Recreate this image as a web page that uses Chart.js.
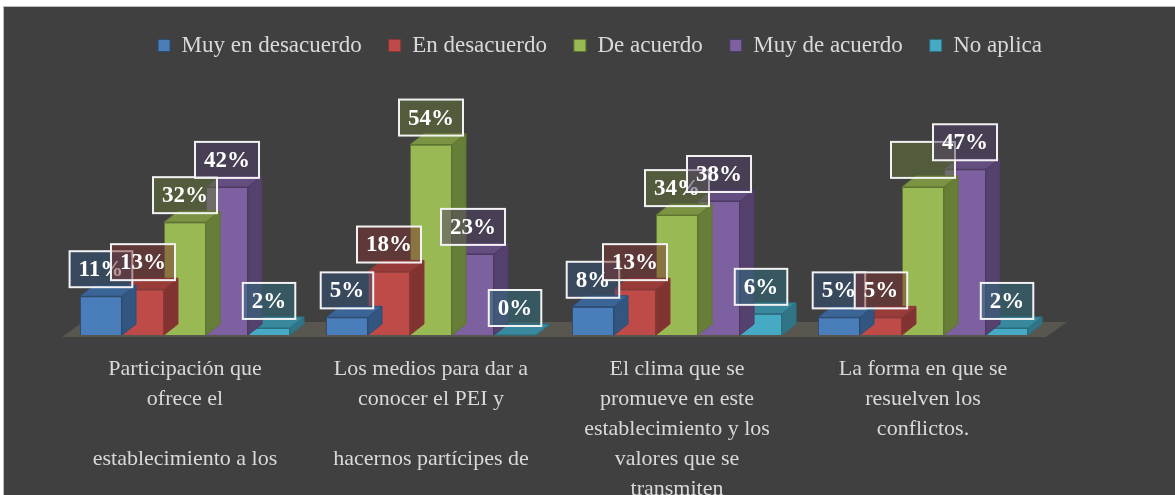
<!DOCTYPE html>
<html>
<head>
<meta charset="utf-8">
<script src="https://cdn.jsdelivr.net/npm/chart.js@4.4.0/dist/chart.umd.min.js"></script>
<style>
  body { margin: 0; background: #fff; }
  #wrap {
    position: absolute; left: 3px; top: 6px; width: 1171px; height: 488px;
    border-left: 1px solid #bcbcbc; border-top: 1px solid #bcbcbc; background: #404040;
  }
</style>
</head>
<body>
<div id="wrap"><canvas id="myCanvas"></canvas></div>
<script>
// categories (wrapped the way the original wraps them)
const categories = [
  ["Participación que", "ofrece el", "", "establecimiento a los"],
  ["Los medios para dar a", "conocer el PEI y", "", "hacernos partícipes de"],
  ["El clima que se", "promueve en este", "establecimiento y los", "valores que se", "transmiten"],
  ["La forma en que se", "resuelven los", "conflictos."]
]
const seriesNames = ["Muy en desacuerdo", "En desacuerdo", "De acuerdo", "Muy de acuerdo", "No aplica"]
const muyEnDesacuerdo = [11, 5, 8, 5]
const enDesacuerdo = [13, 18, 13, 5]
const deAcuerdo = [32, 54, 34, 42]
const muyDeAcuerdo = [42, 23, 38, 47]
const noAplica = [2, 0, 6, 2]

const colors = ["#4a7ebb", "#be4b48", "#98b954", "#7d60a0", "#46aac5"]
const borders = ["#2c4d75", "#8c3836", "#5f7530", "#4d3b62", "#2c6f81"]
// "category-series" whose label shows an empty box in the original
const blankLabels = ["3-2"]

const depth = { x: 14, y: 11 }
const serif = "'Liberation Serif', 'Times New Roman', serif"

function shade(hex, f, a) {
  const n = parseInt(hex.slice(1), 16)
  const r = Math.round(((n >> 16) & 255) * f)
  const g = Math.round(((n >> 8) & 255) * f)
  const b = Math.round((n & 255) * f)
  return a === undefined ? `rgb(${r},${g},${b})` : `rgba(${r},${g},${b},${a})`
}

const bars3d = {
  id: "bars3d",
  beforeDatasetsDraw(chart) {
    const { ctx, chartArea, scales } = chart
    const base = scales.y.getPixelForValue(0)
    ctx.save()
    ctx.fillStyle = "#59564f"
    ctx.beginPath()
    ctx.moveTo(chartArea.left, base + 2)
    ctx.lineTo(chartArea.right, base + 2)
    ctx.lineTo(chartArea.right + 21, base - 13)
    ctx.lineTo(chartArea.left + 21, base - 13)
    ctx.closePath()
    ctx.fill()
    ctx.restore()
  },
  afterDatasetDraw(chart, args) {
    const ds = chart.data.datasets[args.index]
    const ctx = chart.ctx
    ctx.save()
    ctx.lineWidth = 1
    ctx.strokeStyle = ds.borderColor
    args.meta.data.forEach(bar => {
      const { x, y, base, width } = bar.getProps(["x", "y", "base", "width"], true)
      const l = x - width / 2
      const r = x + width / 2
      ctx.fillStyle = shade(ds.backgroundColor, 0.68)
      ctx.beginPath()
      ctx.moveTo(r, base)
      ctx.lineTo(r + depth.x, base - depth.y)
      ctx.lineTo(r + depth.x, y - depth.y)
      ctx.lineTo(r, y)
      ctx.closePath()
      ctx.fill()
      ctx.stroke()
      ctx.fillStyle = shade(ds.backgroundColor, 0.8)
      ctx.beginPath()
      ctx.moveTo(l, y)
      ctx.lineTo(r, y)
      ctx.lineTo(r + depth.x, y - depth.y)
      ctx.lineTo(l + depth.x, y - depth.y)
      ctx.closePath()
      ctx.fill()
      ctx.stroke()
    })
    ctx.restore()
  },
  afterDatasetsDraw(chart) {
    const ctx = chart.ctx
    ctx.save()
    ctx.font = "bold 23px " + serif
    ctx.textAlign = "center"
    ctx.textBaseline = "middle"
    chart.data.datasets.forEach((ds, i) => {
      chart.getDatasetMeta(i).data.forEach((bar, j) => {
        const text = ds.data[j] + "%"
        const w = ctx.measureText(text).width + 18
        const h = 36
        const cx = bar.x
        const cy = bar.y - 27
        ctx.fillStyle = shade(ds.backgroundColor, 0.65, 0.5)
        ctx.fillRect(cx - w / 2, cy - h / 2, w, h)
        ctx.strokeStyle = "#f2f2f2"
        ctx.lineWidth = 2
        ctx.strokeRect(cx - w / 2, cy - h / 2, w, h)
        if (!blankLabels.includes(j + "-" + i)) {
          ctx.fillStyle = "#ffffff"
          ctx.fillText(text, cx, cy + 1)
        }
      })
    })
    ctx.restore()
  }
}

const seriesData = [muyEnDesacuerdo, enDesacuerdo, deAcuerdo, muyDeAcuerdo, noAplica]

const ctx = document.getElementById("myCanvas").getContext("2d")
new Chart(ctx, {
  type: "bar",
  data: {
    labels: categories,
    datasets: seriesNames.map((name, i) => ({
      label: name,
      data: seriesData[i],
      backgroundColor: colors[i],
      borderColor: borders[i],
      borderWidth: 1,
      barPercentage: 1,
      categoryPercentage: 0.854,
    })),
  },
  options: {
    responsive: true,
    maintainAspectRatio: false,
    animation: false,
    layout: { padding: { left: 21, right: 0, top: 0, bottom: 0 } },
    plugins: {
      legend: {
        position: "top",
        labels: {
          color: "#d9d9d9",
          font: { family: serif, size: 23 },
          boxWidth: 12,
          boxHeight: 12,
          padding: 27,
        },
      },
      tooltip: { enabled: false },
    },
    scales: {
      x: {
        grid: { display: false, drawTicks: false },
        border: { display: false },
        ticks: {
          color: "#d9d9d9",
          font: { family: serif, size: 22, lineHeight: "30px" },
          padding: 19,
          maxRotation: 0,
          autoSkip: false,
        },
        afterFit(scale) { scale.height = 160 },
      },
      y: {
        min: 0,
        max: 76,
        grid: { display: false, drawTicks: false },
        border: { display: false },
        ticks: { display: false },
        afterFit(scale) { scale.width = 37 },
      },
      y2: {
        position: "right",
        min: 0,
        max: 76,
        grid: { display: false, drawTicks: false },
        border: { display: false },
        ticks: { display: false },
        afterFit(scale) { scale.width = 129 },
      },
    },
  },
  plugins: [bars3d],
})
</script>
</body>
</html>
